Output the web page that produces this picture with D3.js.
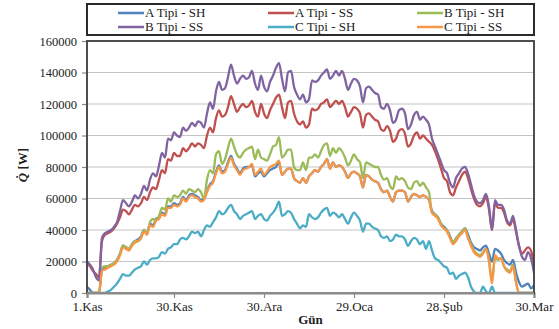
<!DOCTYPE html>
<html>
<head>
<meta charset="utf-8">
<script src="https://cdn.jsdelivr.net/npm/d3@7"></script>
<style>
  body { margin: 0; background: #fff; }
  svg { display: block; }
</style>
</head>
<body>
<svg id="chart" width="559" height="329"></svg>
<script>
// ---- data -------------------------------------------------------------
// Day index 0..149 runs from 1 November to 30 March.
const dayTicks = [0, 29, 59, 89, 119, 149];
const dayTickLabels = ["1.Kas", "30.Kas", "30.Ara", "29.Oca", "28.Şub", "30.Mar"];
const yTicks = [0, 20000, 40000, 60000, 80000, 100000, 120000, 140000, 160000];

const seriesNames = ["A Tipi - SH", "A Tipi - SS", "B Tipi - SH", "B Tipi - SS", "C Tipi - SH", "C Tipi - SS"];
const seriesColors = ["#4F81BD", "#C0504D", "#9BBB59", "#8064A2", "#4BACC6", "#F79646"];

// Daily heat load, in kW (thousands of W)
const aTipiSH = [
  4,2,0,0,0,15,16,17,18,19, 21,25,30,29,28,31,33,34,36,40, 38,44,43,47,48,51,50,55,55,57,
  56,57,61,59,62,63,62,61,59,60, 65,69,71,77,81,77,78,83,87,82,
  79,76,79,80,80,81,74,76,77,74, 76,78,79,80,83,75,77,79,79,73,
  71,70,73,70,74,76,78,77,80,82, 85,79,83,80,81,80,77,73,76,77,
  76,74,67,75,74,72,71,70,66,64, 65,61,58,64,65,65,64,58,61,63,
  62,61,62,61,59,52,50,48,44,42, 40,36,32,34,37,39,41,37,32,29,
  28,27,29,30,25,20,28,27,25,21, 19,18,21,13,7,4,5,6,3,5
];
const aTipiSS = [
  19,17,14,12,10,33,37,38,39,41, 44,48,53,52,50,53,56,55,57,61, 59,64,67,66,72,78,76,85,84,89,
  87,87,92,90,92,95,93,95,94,92, 100,105,102,111,116,112,113,118,125,120,
  115,118,120,118,119,122,115,112,120,114, 111,116,120,124,126,118,111,121,122,114,
  109,107,109,105,107,117,116,117,120,121, 123,118,120,122,120,122,118,112,115,118,
  117,114,105,113,114,112,110,109,104,103, 106,103,96,98,103,104,101,93,95,100,
  102,98,100,98,96,94,90,85,79,73, 71,64,62,67,71,75,77,73,66,60,
  56,55,57,61,53,40,57,54,54,51, 45,43,47,39,30,25,27,29,27,17
];
const bTipiSH = [
  0,0,0,0,0,16,17,17,18,19, 21,25,30,29,28,31,33,33,35,40, 38,45,47,46,49,54,53,60,58,62,
  61,62,65,63,66,65,64,66,64,60, 72,78,76,88,90,82,85,92,98,93,
  88,86,89,91,92,93,85,91,86,85, 84,88,93,94,99,86,88,91,91,80,
  78,78,83,78,86,86,88,86,90,94, 95,87,92,89,92,90,86,81,84,88,
  85,83,73,83,82,81,80,80,75,72, 73,68,66,74,72,73,71,67,66,70,
  71,68,70,67,64,51,50,48,44,41, 40,35,32,35,37,39,41,35,31,27,
  25,24,26,28,21,8,22,21,22,17, 15,14,18,7,0,0,0,0,0,0
];
const bTipiSS = [
  20,18,15,10,8,35,38,39,40,42, 45,52,59,57,55,58,62,60,63,68, 65,72,76,74,81,89,86,98,97,102,
  100,99,105,103,105,108,106,109,108,105, 114,121,117,128,134,129,130,137,145,138,
  133,136,138,136,137,141,133,129,138,131, 128,134,138,143,146,136,128,140,141,131,
  126,123,126,121,123,135,134,135,138,140, 142,136,138,141,138,141,136,129,133,136,
  135,131,121,130,131,129,127,126,118,117, 120,116,108,110,116,117,114,104,107,113,
  115,110,112,110,107,98,93,88,83,78, 76,70,67,73,76,79,80,76,69,62,
  58,57,59,63,55,40,59,56,56,53, 46,44,49,40,30,23,21,26,22,13
];
const cTipiSH = [
  0,0,0,0,0,0,0,1,2,4, 6,9,12,11,11,13,15,16,17,20, 18,21,22,22,23,26,25,28,29,31,
  31,34,35,34,36,39,38,39,36,40, 43,42,45,48,52,50,51,54,56,52,
  50,47,49,50,51,52,47,49,50,47, 46,49,51,54,58,49,50,52,51,47,
  44,41,43,42,50,48,47,48,51,53, 54,49,51,50,48,50,47,44,48,51,
  49,46,39,44,44,42,41,40,36,35, 36,33,34,37,36,36,34,30,33,35,
  34,31,33,28,33,27,22,21,19,17, 16,12,13,9,11,12,13,10,4,1,
  0,0,4,1,0,4,0,0,0,0, 0,0,0,0,0,0,0,0,0,0
];
const cTipiSS = [
  0,0,0,0,0,14,15,16,17,18, 20,24,29,28,27,30,32,33,35,39, 37,43,42,46,47,50,49,54,54,56,
  55,56,60,58,61,62,61,60,58,59, 64,68,70,76,80,76,77,82,86,81,
  78,75,78,79,80,82,75,77,79,75, 77,80,81,82,84,75,77,79,79,73,
  71,70,73,70,74,76,78,77,80,82, 85,79,83,80,81,80,77,73,76,77,
  76,74,67,75,74,72,71,70,66,64, 65,61,58,64,65,65,64,58,61,63,
  62,61,62,61,59,51,49,47,43,41, 39,35,31,33,36,38,40,35,30,26,
  24,23,25,28,20,6,24,22,22,17, 14,13,17,7,0,0,0,0,0,0
];
const seriesValues = [aTipiSH, aTipiSS, bTipiSH, bTipiSS, cTipiSH, cTipiSS];

// ---- layout -----------------------------------------------------------
const svg = d3.select("#chart");
const plot = { left: 87, right: 534, top: 41, bottom: 293 };
const serif = "'Liberation Serif', 'Times New Roman', serif";

const x = d3.scaleLinear().domain([0, 149]).range([plot.left, plot.right]);
const y = d3.scaleLinear().domain([0, 160000]).range([plot.bottom, plot.top]);

// horizontal gridlines
svg.append("g")
  .selectAll("line")
  .data(yTicks.filter(v => v > 0 && v < 160000))
  .join("line")
  .attr("x1", plot.left).attr("x2", plot.right)
  .attr("y1", d => y(d)).attr("y2", d => y(d))
  .attr("stroke", "#c4c4c4").attr("stroke-width", 1.2);

// y axis
const yAxis = svg.append("g")
  .attr("transform", `translate(${plot.left},0)`)
  .call(d3.axisLeft(y).tickValues(yTicks).tickFormat(d3.format("d")).tickSize(5).tickPadding(5));
yAxis.select(".domain").remove();
yAxis.selectAll(".tick line").attr("stroke", "#8a8a8a").attr("stroke-width", 1.2);
yAxis.selectAll(".tick text")
  .attr("font-family", serif).attr("font-size", 12.5).attr("fill", "#222");

// x axis
const xAxis = svg.append("g")
  .attr("transform", `translate(0,${plot.bottom})`)
  .call(d3.axisBottom(x).tickValues(dayTicks)
    .tickFormat((d, i) => dayTickLabels[i]).tickSize(5).tickPadding(4));
xAxis.select(".domain").attr("stroke", "#8a8a8a").attr("stroke-width", 2.2);
xAxis.selectAll(".tick line").attr("stroke", "#8a8a8a").attr("stroke-width", 1.2);
xAxis.selectAll(".tick text")
  .attr("font-family", serif).attr("font-size", 13).attr("fill", "#222");

// series lines (clipped to the plot area)
svg.append("clipPath").attr("id", "plotClip")
  .append("rect")
  .attr("x", plot.left).attr("y", plot.top - 2)
  .attr("width", plot.right - plot.left).attr("height", plot.bottom - plot.top + 2);

const line = d3.line()
  .x((d, i) => x(i))
  .y(d => y(d * 1000))
  .curve(d3.curveMonotoneX);

svg.append("g").attr("clip-path", "url(#plotClip)")
  .selectAll("path")
  .data(seriesValues)
  .join("path")
  .attr("d", d => line(d))
  .attr("fill", "none")
  .attr("stroke", (d, i) => seriesColors[i])
  .attr("stroke-width", 2.3)
  .attr("stroke-linejoin", "round")
  .attr("stroke-linecap", "round");

// plot area frame
svg.append("rect")
  .attr("x", plot.left).attr("y", plot.top)
  .attr("width", plot.right - plot.left).attr("height", plot.bottom - plot.top)
  .attr("fill", "none").attr("stroke", "#3c3c3c").attr("stroke-width", 1.8);
svg.append("line")
  .attr("x1", plot.left).attr("x2", plot.right)
  .attr("y1", plot.bottom).attr("y2", plot.bottom)
  .attr("stroke", "#8a8a8a").attr("stroke-width", 2.2);

// axis titles
svg.append("text")
  .attr("x", (plot.left + plot.right) / 2).attr("y", 324)
  .attr("text-anchor", "middle")
  .attr("font-family", serif).attr("font-size", 13).attr("font-weight", "bold")
  .attr("fill", "#222")
  .text("Gün");

const yTitle = svg.append("text")
  .attr("transform", "translate(27,165) rotate(-90)")
  .attr("text-anchor", "middle")
  .attr("font-family", serif).attr("font-size", 13).attr("font-weight", "bold")
  .attr("fill", "#222");
yTitle.append("tspan").attr("font-style", "italic").text("Q\u0307");
yTitle.append("tspan").text(" [W]");

// legend
const legendBox = { x: plot.left, y: 4, w: plot.right - plot.left, h: 31 };
svg.append("rect")
  .attr("x", legendBox.x).attr("y", legendBox.y)
  .attr("width", legendBox.w).attr("height", legendBox.h)
  .attr("fill", "#fff").attr("stroke", "#2a2a2a").attr("stroke-width", 2);

const legendCols = [118, 268, 417];
const legendRows = [13, 27];
const legendItems = svg.append("g")
  .selectAll("g")
  .data(seriesNames)
  .join("g")
  .attr("transform", (d, i) => `translate(${legendCols[i % 3]},${legendRows[Math.floor(i / 3)]})`);
legendItems.append("line")
  .attr("x1", 0).attr("x2", 26).attr("y1", 0).attr("y2", 0)
  .attr("stroke", (d, i) => seriesColors[i]).attr("stroke-width", 2.5);
legendItems.append("text")
  .attr("x", 27).attr("y", 0).attr("dy", "0.33em")
  .attr("font-family", serif).attr("font-size", 13).attr("fill", "#222")
  .text(d => d);
</script>
</body>
</html>
